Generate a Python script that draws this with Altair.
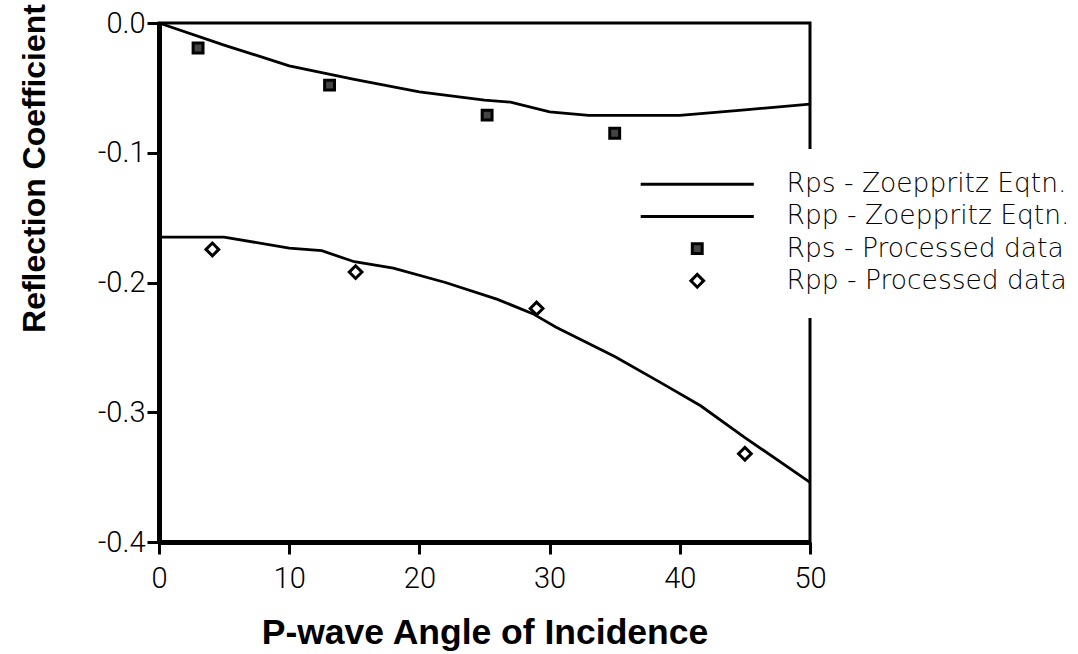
import altair as alt
import pandas as pd

# ---- data ----
rps_line_angle = [0, 5, 10, 15, 20, 25, 27, 30, 33, 40, 45, 50]
rps_line_value = [0.0, -0.017, -0.033, -0.0435, -0.053, -0.0595, -0.061, -0.0685, -0.0712, -0.0712, -0.067, -0.0625]

rpp_line_angle = [0, 5, 10, 12.5, 15, 18, 22, 26, 28.7, 30.5, 35, 38.5, 41.6, 45, 50]
rpp_line_value = [-0.165, -0.165, -0.1735, -0.1755, -0.184, -0.189, -0.200, -0.213, -0.224, -0.2345, -0.257, -0.277, -0.295, -0.3195, -0.354]

rps_pts_angle = [3.0, 13.1, 25.2, 35.0]
rps_pts_value = [-0.0193, -0.0479, -0.071, -0.085]

rpp_pts_angle = [4.1, 15.1, 29.0, 45.0]
rpp_pts_value = [-0.1745, -0.192, -0.220, -0.332]

series_names = [
    "Rps - Zoeppritz Eqtn.",
    "Rpp - Zoeppritz Eqtn.",
    "Rps - Processed data",
    "Rpp - Processed data",
]

x_ticks = [0, 10, 20, 30, 40, 50]
y_ticks = [0.0, -0.1, -0.2, -0.3, -0.4]

lines_df = pd.concat([
    pd.DataFrame({"angle": rps_line_angle, "value": rps_line_value, "series": series_names[0]}),
    pd.DataFrame({"angle": rpp_line_angle, "value": rpp_line_value, "series": series_names[1]}),
])
pts_df = pd.concat([
    pd.DataFrame({"angle": rps_pts_angle, "value": rps_pts_value, "series": series_names[2]}),
    pd.DataFrame({"angle": rpp_pts_angle, "value": rpp_pts_value, "series": series_names[3]}),
])

LABEL_FONT = "Roboto"
LEGEND_FONT = "DejaVu Sans"
TITLE_FONT = "Liberation Sans"

x_enc = alt.X(
    "angle:Q",
    scale=alt.Scale(domain=[0, 50], nice=False, zero=False),
    axis=alt.Axis(
        values=x_ticks,
        title="P-wave Angle of Incidence",
        titleFont=TITLE_FONT, titleFontSize=35.5, titleFontWeight="bold", titleColor="black",
        titleBaseline="alphabetic", titleY=101,
        labelFont=LABEL_FONT, labelFontSize=29, labelFontWeight=300, labelColor="black",
        labelPadding=10, labelFlush=False,
        domainColor="black", domainWidth=5,
        tickColor="black", tickWidth=3, tickSize=12,
        grid=False,
    ),
)
y_enc = alt.Y(
    "value:Q",
    scale=alt.Scale(domain=[-0.4, 0.0], nice=False, zero=False),
    axis=alt.Axis(
        values=y_ticks,
        labelExpr="replace(format(datum.value, '.1f'), '\u2212', '-')",
        title="Reflection Coefficient",
        titleFont=TITLE_FONT, titleFontSize=32, titleFontWeight="bold", titleColor="black",
        titleAngle=270, titleAlign="center", titleBaseline="alphabetic",
        titleX=-115, titleY=145,
        labelFont=LABEL_FONT, labelFontSize=29, labelFontWeight=300, labelColor="black",
        labelPadding=2, labelFlush=False,
        domainColor="black", domainWidth=5,
        tickColor="black", tickWidth=3, tickSize=12,
        grid=False,
    ),
)

lines = alt.Chart(lines_df).mark_line(color="black", strokeWidth=2.8).encode(
    x=x_enc, y=y_enc, detail="series:N"
)

legend = alt.Legend(
    title=None,
    orient="none",
    legendX=503,
    legendY=126,
    padding=22,
    fillColor="white",
    strokeColor="white",
    direction="vertical",
    rowPadding=5.2,
    labelFont=LEGEND_FONT,
    labelFontSize=26.5,
    labelFontWeight=200,
    labelColor="black",
    labelLimit=0,
    labelOffset=76,
    symbolSize=200,
    symbolOpacity=1,
    symbolStrokeWidth=3,
)

dom = series_names
# custom symbol paths in Vega's unit box (long horizontal stroke for the curve entries)
shape_range = [
    "M-8,0H8",
    "M-8,0H8",
    "M-0.7,-0.7H0.7V0.7H-0.7Z",
    "M-0.9,0L0,-0.9L0.9,0L0,0.9Z",
]
points = alt.Chart(pts_df).mark_point(opacity=1, size=200, strokeWidth=3).encode(
    x=x_enc,
    y=y_enc,
    shape=alt.Shape("series:N", scale=alt.Scale(domain=dom, range=shape_range), legend=legend),
    fill=alt.Fill("series:N", scale=alt.Scale(domain=dom, range=["black", "black", "#444444", "white"]), legend=legend),
    stroke=alt.Stroke("series:N", scale=alt.Scale(domain=dom, range=["black", "black", "black", "black"]), legend=legend),
)

chart = alt.layer(lines, points).properties(
    width=651,
    height=519,
    autosize=alt.AutoSizeParams(type="none"),
    padding={"left": 159, "top": 23, "right": 268, "bottom": 112},
    background="white",
).configure_view(
    stroke="black", strokeWidth=3
)

chart.save("out.html", embed_options={"renderer": "svg", "actions": False})
